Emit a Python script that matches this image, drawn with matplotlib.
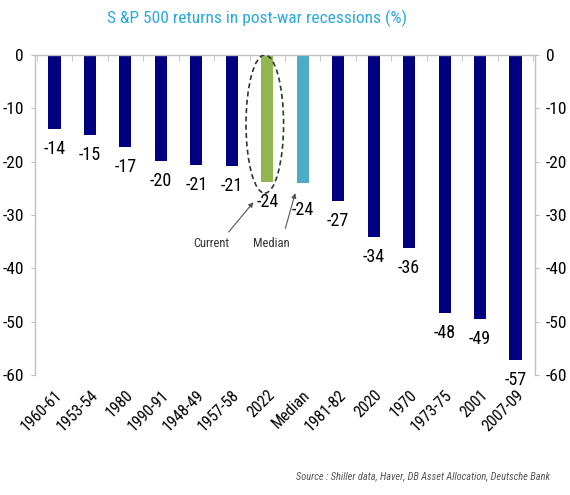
import matplotlib
matplotlib.use("Agg")
import matplotlib.pyplot as plt
import matplotlib.transforms as mtransforms
from matplotlib.patches import Ellipse
import numpy as np

categories = ["1960-61", "1953-54", "1980", "1990-91", "1948-49", "1957-58", "2022",
              "Median", "1981-82", "2020", "1970", "1973-75", "2001", "2007-09"]
values = [-13.9, -15.0, -17.2, -19.8, -20.6, -20.8, -23.8, -24.0, -27.4, -34.1, -36.2, -48.4, -49.5, -57.2]
labels = ["-14", "-15", "-17", "-20", "-21", "-21", "-24", "-24", "-27", "-34", "-36", "-48", "-49", "-57"]
yticks = [0, -10, -20, -30, -40, -50, -60]
title = "S &P 500 returns in post-war recessions (%)"
source = "Source : Shiller data, Haver, DB Asset Allocation, Deutsche Bank"

plt.rcParams["font.family"] = ["Roboto Condensed", "Liberation Sans", "DejaVu Sans"]

navy = "#000080"
colors = [navy] * len(categories)
colors[6] = "#92b550"
colors[7] = "#4bacc6"
grey = "#bfbfbf"

fig = plt.figure(figsize=(5.7, 4.95), dpi=100)
ax = fig.add_axes([35 / 570, 1 - 375 / 495, 500 / 570, 320 / 495])
x = np.arange(len(categories))
ax.bar(x, values, width=0.34, color=colors, zorder=2)
ax.set_xlim(-0.55, len(categories) - 0.45)
ax.set_ylim(-60, 0)
ax.set_yticks(yticks)
ax.set_yticklabels([str(v) for v in yticks], fontsize=12.5)
ax.set_xticks(x)
ax.set_xticklabels(categories, rotation=45, ha="right", rotation_mode="anchor", fontsize=11.5)
shift = mtransforms.ScaledTranslation(-9 / 72, 0, fig.dpi_scale_trans)
for t in ax.get_xticklabels():
    t.set_transform(t.get_transform() + shift)
ax.tick_params(axis="x", length=0, pad=9)
ax.tick_params(axis="y", length=3, color=grey, pad=5, direction="out")
ax.set_xticks(np.arange(len(categories) + 1) - 0.5, minor=True)
ax.tick_params(axis="x", which="minor", top=True, bottom=False, direction="in", length=4, color=grey)
ax.spines["bottom"].set_visible(False)
for s in ["top", "left", "right"]:
    ax.spines[s].set_color(grey)
    ax.spines[s].set_linewidth(1)

ax2 = ax.twinx()
ax2.set_ylim(-60, 0)
ax2.set_yticks(yticks)
ax2.set_yticklabels([str(v) for v in yticks], fontsize=12.5)
ax2.tick_params(axis="y", length=3, color=grey, pad=5, direction="out")
for s in ax2.spines.values():
    s.set_visible(False)

for i, (v, lab) in enumerate(zip(values, labels)):
    off = -8
    if categories[i] == "Median":
        off = -13
    ax.annotate(lab, (i, v), xytext=(0, off), textcoords="offset points",
                ha="center", va="top", fontsize=13, color="#000000")

ell = Ellipse((5.93, -12.95), 1.06, 25.9, fill=False, ls=(0, (3, 2)), lw=1.2, ec="#333333", zorder=3)
ax.add_patch(ell)

arrow = dict(arrowstyle="-|>", color="#555555", lw=0.8, mutation_scale=7, shrinkA=0, shrinkB=0)
ax.annotate("", xy=(5.61, -27.6), xytext=(4.91, -33.2), arrowprops=arrow)
ax.annotate("", xy=(6.79, -25.9), xytext=(6.51, -32.5), arrowprops=arrow)
ax.text(4.43, -35.4, "Current", fontsize=9, color="#333333", ha="center", va="center")
ax.text(6.11, -35.4, "Median", fontsize=9, color="#333333", ha="center", va="center")

fig.text(257 / 570, 1 - 18 / 495, title, ha="center", va="center", fontsize=12.5, color="#29a8e0")
fig.text(550 / 570, 1 - 476 / 495, source, ha="right", va="center", fontsize=7.5, color="#555555",
         style="italic")

fig.savefig("out.png", dpi=100)
